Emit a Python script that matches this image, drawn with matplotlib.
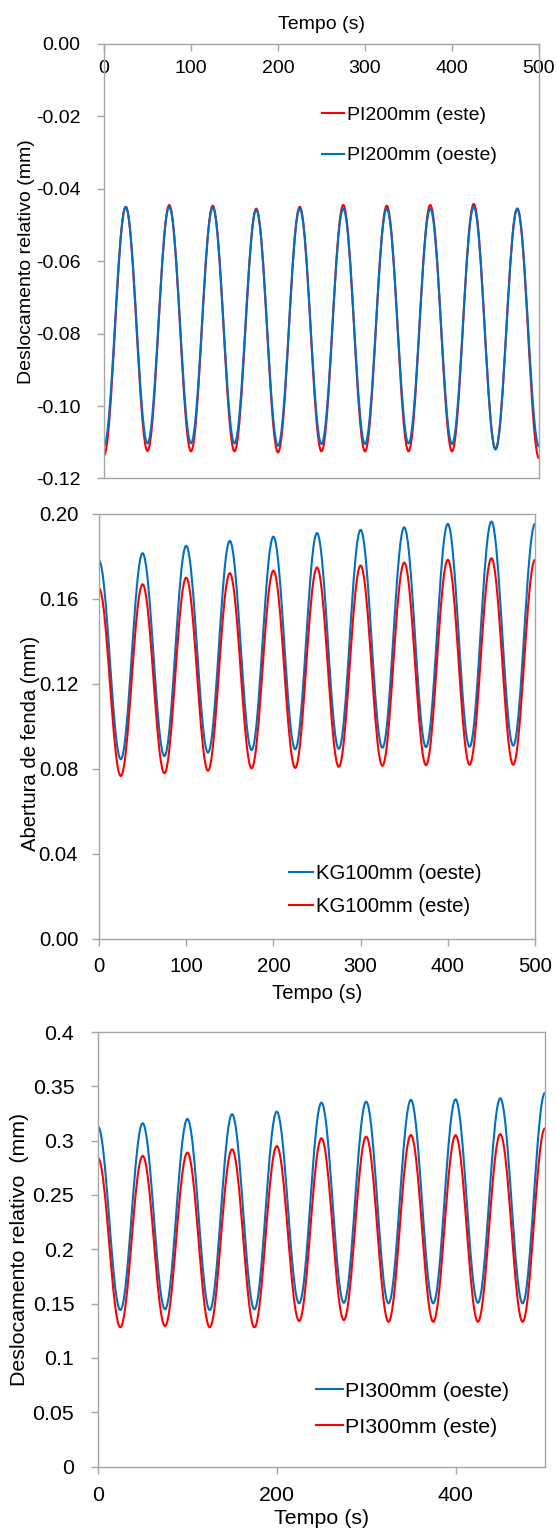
import matplotlib.pyplot as plt
from matplotlib.path import Path
from matplotlib.patches import PathPatch
from matplotlib.lines import Line2D

plt.rcParams['font.family'] = ['Liberation Sans', 'DejaVu Sans']
plt.rcParams['axes.unicode_minus'] = False

# times of the peaks / troughs (s), same for every curve
t_ext = [0, 25, 50, 75, 100, 125, 150, 175, 200, 225, 250,
         275, 300, 325, 350, 375, 400, 425, 450, 475, 500]

# PI200mm - relative displacement (mm), values at the extremes
pi200_este = [-0.1136, -0.0450, -0.1124, -0.0445, -0.1125, -0.0447, -0.1125,
              -0.0455, -0.1128, -0.0450, -0.1125, -0.0445, -0.1125, -0.0447,
              -0.1125, -0.0445, -0.1125, -0.0442, -0.1118, -0.0455, -0.1144]
pi200_oeste = [-0.1110, -0.0450, -0.1103, -0.0450, -0.1103, -0.0452, -0.1103,
               -0.0458, -0.1110, -0.0455, -0.1105, -0.0455, -0.1105, -0.0455,
               -0.1103, -0.0455, -0.1105, -0.0450, -0.1120, -0.0455, -0.1112]

# KG100mm - crack opening (mm)
kg100_oeste = [0.1780, 0.0846, 0.1815, 0.0861, 0.1850, 0.0877, 0.1873,
               0.0889, 0.1893, 0.0893, 0.1910, 0.0895, 0.1925, 0.0900,
               0.1937, 0.0903, 0.1953, 0.0905, 0.1964, 0.0910, 0.1953]
kg100_este = [0.1650, 0.0767, 0.1669, 0.0780, 0.1700, 0.0792, 0.1721,
              0.0803, 0.1733, 0.0805, 0.1748, 0.0810, 0.1757, 0.0815,
              0.1771, 0.0818, 0.1784, 0.0820, 0.1791, 0.0820, 0.1784]

# PI300mm - relative displacement (mm)
pi300_oeste = [0.313, 0.1441, 0.316, 0.1448, 0.320, 0.1441, 0.3243,
               0.1448, 0.3267, 0.1503, 0.335, 0.1508, 0.3359, 0.1503,
               0.3375, 0.1503, 0.338, 0.1508, 0.339, 0.1503, 0.344]
pi300_este = [0.284, 0.1282, 0.286, 0.1294, 0.289, 0.1282, 0.292,
              0.1282, 0.295, 0.1340, 0.3022, 0.1349, 0.3037, 0.1333,
              0.3052, 0.1333, 0.305, 0.1333, 0.306, 0.1333, 0.3114]

BLUE = '#0070C0'
RED = '#FF0000'
GRAY = '#A6A6A6'


def wave(ax, t, v, color):
    # smooth curve through the extremes (flat tangent at each peak / trough)
    verts = [(t[0], v[0])]
    codes = [Path.MOVETO]
    for i in range(len(t) - 1):
        h = t[i + 1] - t[i]
        verts += [(t[i] + 0.364 * h, v[i]), (t[i + 1] - 0.364 * h, v[i + 1]),
                  (t[i + 1], v[i + 1])]
        codes += [Path.CURVE4] * 3
    ax.add_patch(PathPatch(Path(verts, codes), facecolor='none',
                           edgecolor=color, lw=1.5, clip_on=True))


def style(ax, fs):
    for s in ax.spines.values():
        s.set_color(GRAY)
        s.set_linewidth(1.0)
    ax.tick_params(colors=GRAY, labelcolor='black', labelsize=fs, width=1.0, length=5)


def legend(ax, items, x, y, spacing, fs, hl=1.15, tp=0.15):
    handles = [Line2D([], [], color=c, lw=1.5) for c, _ in items]
    ax.legend(handles, [l for _, l in items], loc='upper left', bbox_to_anchor=(x, y),
              frameon=False, fontsize=fs, borderpad=0, borderaxespad=0,
              handlelength=hl, handletextpad=tp, labelspacing=spacing)


fig = plt.figure(figsize=(5.57, 15.31), dpi=100)

# --- Panel 1: PI200mm ---
fs1 = 14
ax1 = fig.add_axes([0.1867, 0.6875, 0.781, 0.2838])
wave(ax1, t_ext, pi200_este, RED)
wave(ax1, t_ext, pi200_oeste, BLUE)
ax1.set_xlim(0, 500)
ax1.set_ylim(-0.12, 0)
ax1.set_xticks([0, 100, 200, 300, 400, 500])
ax1.set_yticks([0, -0.02, -0.04, -0.06, -0.08, -0.10, -0.12])
ax1.set_yticklabels(['0.00', '-0.02', '-0.04', '-0.06', '-0.08', '-0.10', '-0.12'])
style(ax1, fs1)
ax1.xaxis.tick_top()
ax1.xaxis.set_label_position('top')
ax1.tick_params(axis='x', direction='in', pad=-24)
ax1.tick_params(axis='y', pad=12)
ax1.set_xlabel('Tempo (s)', fontsize=fs1, labelpad=11)
ax1.set_ylabel('Deslocamento relativo (mm)', fontsize=fs1)
ax1.yaxis.set_label_coords(-0.159, 0.5)
legend(ax1, [(RED, 'PI200mm (este)'), (BLUE, 'PI200mm (oeste)')], 0.50, 0.857, 1.19, fs1)

# --- Panel 2: KG100mm ---
fs2 = 14.6
ax2 = fig.add_axes([0.1777, 0.3867, 0.7828, 0.2776])
wave(ax2, t_ext, kg100_oeste, BLUE)
wave(ax2, t_ext, kg100_este, RED)
ax2.set_xlim(0, 500)
ax2.set_ylim(0, 0.2)
ax2.set_xticks([0, 100, 200, 300, 400, 500])
ax2.set_yticks([0, 0.04, 0.08, 0.12, 0.16, 0.20])
ax2.set_yticklabels(['0.00', '0.04', '0.08', '0.12', '0.16', '0.20'])
style(ax2, fs2)
ax2.tick_params(axis='x', pad=8)
ax2.tick_params(axis='y', pad=10)
ax2.set_xlabel('Tempo (s)', fontsize=fs2, labelpad=5.5)
ax2.set_ylabel('Abertura de fenda (mm)', fontsize=fs2)
ax2.yaxis.set_label_coords(-0.135, 0.46)
legend(ax2, [(BLUE, 'KG100mm (oeste)'), (RED, 'KG100mm (este)')], 0.436, 0.177, 0.69, fs2,
       hl=1.18)

# --- Panel 3: PI300mm ---
fs3 = 15.4
ax3 = fig.add_axes([0.1759, 0.0421, 0.8025, 0.2838])
wave(ax3, t_ext, pi300_oeste, BLUE)
wave(ax3, t_ext, pi300_este, RED)
ax3.set_xlim(0, 500)
ax3.set_ylim(0, 0.4)
ax3.set_xticks([0, 200, 400])
ax3.set_yticks([0, 0.05, 0.1, 0.15, 0.2, 0.25, 0.3, 0.35, 0.4])
ax3.set_yticklabels(['0', '0.05', '0.1', '0.15', '0.2', '0.25', '0.3', '0.35', '0.4'])
style(ax3, fs3)
ax3.tick_params(axis='x', pad=9)
ax3.tick_params(axis='y', pad=12)
ax3.set_xlabel('Tempo (s)', fontsize=fs3, labelpad=3)
ax3.set_ylabel('Deslocamento relativo  (mm)', fontsize=fs3)
ax3.yaxis.set_label_coords(-0.154, 0.5)
legend(ax3, [(BLUE, 'PI300mm (oeste)'), (RED, 'PI300mm (este)')], 0.488, 0.195, 0.79, fs3,
       hl=1.25, tp=0.1)

fig.savefig('out.png', dpi=100)
